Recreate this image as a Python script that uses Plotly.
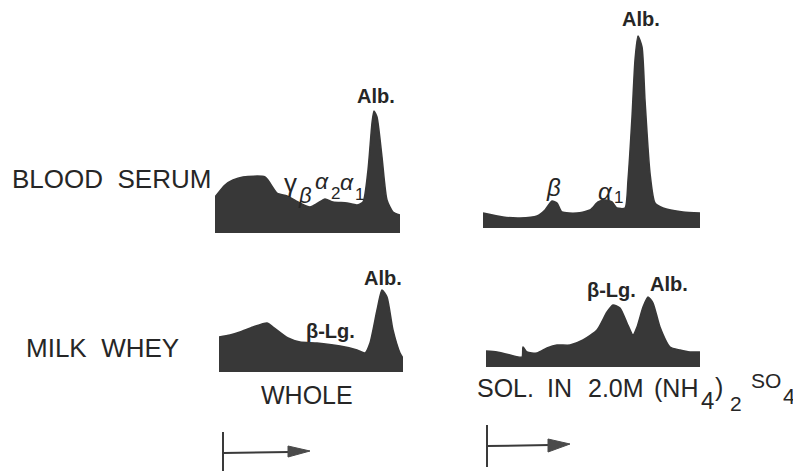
import plotly.graph_objects as go

# ---------------- data: densitometer profiles ----------------
# position along the strip (migration distance) and relative absorbance
serum_whole_pos = [0, 10, 18, 28, 50, 62, 72, 85, 95, 103, 110, 118, 132, 142, 148, 153, 157, 159, 162, 167, 172, 178, 185]
serum_whole_abs = [36, 48, 53, 56, 56, 40, 37, 30, 26, 30, 34, 31, 30, 28, 31, 63, 110, 122, 116, 76, 33, 21, 18]

serum_sol_pos = [0, 20, 37, 54, 62, 69, 74, 79, 94, 107, 115, 122, 129, 134, 142, 145, 149, 152, 155, 159, 162, 167, 172, 180, 200, 217]
serum_sol_abs = [15, 11, 10, 12, 18, 27, 25, 16, 15, 18, 26, 28, 26, 20, 20, 48, 111, 168, 192, 181, 128, 55, 25, 20, 16, 15]

whey_whole_pos = [0, 11, 21, 34, 48, 54, 69, 81, 98, 121, 138, 146, 151, 158, 163, 168, 174, 181, 184]
whey_whole_abs = [35, 37, 40, 45, 49, 45, 34, 30, 29, 26, 22, 19, 29, 62, 82, 75, 42, 19, 14]

whey_sol_pos = [0, 11, 24, 36, 37, 41, 51, 61, 71, 84, 97, 111, 121, 127, 134, 141, 147, 151, 157, 162, 167, 174, 184, 194, 204, 214]
whey_sol_abs = [16, 15, 12, 10, 20, 15, 14, 19, 22, 22, 27, 37, 55, 62, 59, 44, 32, 40, 60, 70, 64, 40, 20, 17, 15, 15]

row_labels = ["BLOOD\u00a0\u00a0SERUM", "MILK\u00a0\u00a0WHEY"]
col_labels = ["WHOLE"]

# peak labels: (text, position, absorbance, size, bold, italic)
serum_whole_labels = [("Alb.", 161, 137, 20, True, False),
                      ("\u03b3", 75, 50, 26, False, False),
                      ("\u03b2", 90, 38, 22, False, True),
                      ("\u03b1", 107, 52, 23, False, True), ("2", 120, 40, 17, False, False),
                      ("\u03b1", 132, 51, 23, False, True), ("1", 144, 39, 17, False, False)]
serum_sol_labels = [("Alb.", 158, 209, 20, True, False),
                    ("\u03b2", 70, 41, 24, False, True),
                    ("\u03b1", 122, 37, 24, False, True), ("1", 135, 31, 17, False, False)]
whey_whole_labels = [("\u03b2-Lg.", 111, 41, 20, True, False),
                     ("Alb.", 164, 94, 20, True, False)]
whey_sol_labels = [("\u03b2-Lg.", 125, 77, 20, True, False),
                   ("Alb.", 183, 83, 20, True, False)]

# page offset of the plot div (browser body margin)
OFF = 8
WIN_W, WIN_H = 801, 471
W, H = WIN_W - OFF, WIN_H - OFF
FILL = "#383838"
INK = "#262626"
FONT = "Liberation Sans"

# panel placement in window px (left, baseline, width)
panels = [
    (serum_whole_pos, serum_whole_abs, serum_whole_labels, 215, 233, 185),
    (serum_sol_pos, serum_sol_abs, serum_sol_labels, 483, 228, 217),
    (whey_whole_pos, whey_whole_abs, whey_whole_labels, 219, 372, 184),
    (whey_sol_pos, whey_sol_abs, whey_sol_labels, 486, 367, 214),
]

fig = go.Figure()
layout = dict(width=W, height=H, margin=dict(l=0, r=0, t=0, b=0, pad=0),
              paper_bgcolor="white", plot_bgcolor="rgba(0,0,0,0)",
              showlegend=False, annotations=[], shapes=[])

for i, (xs, ys, labels, left, base, width) in enumerate(panels, start=1):
    xa = "x" if i == 1 else f"x{i}"
    ya = "y" if i == 1 else f"y{i}"
    l = left - OFF
    b = base - OFF
    fig.add_trace(go.Scatter(x=xs, y=ys, xaxis=xa, yaxis=ya, mode="lines",
                             line=dict(color=FILL, width=1.5, shape="spline", smoothing=0.6),
                             fill="tozeroy", fillcolor=FILL, hoverinfo="skip"))
    layout[f"xaxis{'' if i == 1 else i}"] = dict(domain=[l / W, (l + width) / W], range=[0, width],
                                                 visible=False, fixedrange=True, anchor=ya)
    layout[f"yaxis{'' if i == 1 else i}"] = dict(domain=[(H - b) / H, 1], range=[0, b],
                                                 visible=False, fixedrange=True, anchor=xa)
    for (t, px, py, sz, bold, ital) in labels:
        layout["annotations"].append(dict(
            text=t, x=px, y=py, xref=xa, yref=ya, showarrow=False,
            xanchor="center", yanchor="middle", borderpad=0,
            font=dict(family=FONT, size=sz, color=INK,
                      weight="bold" if bold else "normal",
                      style="italic" if ital else "normal")))

# overlay axis in window-pixel units for decorations
layout["xaxis5"] = dict(domain=[0, 1], range=[OFF, WIN_W], visible=False, fixedrange=True, anchor="y5")
layout["yaxis5"] = dict(domain=[0, 1], range=[WIN_H, OFF], visible=False, fixedrange=True, anchor="x5")

def txt(t, x, y, size, anchor="center"):
    layout["annotations"].append(dict(text=t, x=x, y=y, xref="x5", yref="y5", showarrow=False,
                                      xanchor=anchor, yanchor="middle", borderpad=0,
                                      font=dict(family=FONT, size=size, color=INK)))

txt(row_labels[0], 111, 179, 26)
txt(row_labels[1], 102, 348, 26)
txt(col_labels[0], 307, 395, 25)
txt("SOL.", 505, 388, 25)
txt("IN", 559, 388, 25)
txt("2.0M", 616, 388, 25)
txt("(NH", 676, 388, 25)
txt("4", 707, 400, 24)
txt(")", 719, 387, 25)
txt("2", 736, 403, 21)
txt("SO", 766, 380, 21)
txt("4", 789, 396, 22)

def line(x0, y0, x1, y1, w=2):
    layout["shapes"].append(dict(type="line", x0=x0, y0=y0, x1=x1, y1=y1, xref="x5", yref="y5",
                                 line=dict(color="#3a3a3a", width=w)))

def head(xb, yb0, yb1, xt, yt):
    layout["shapes"].append(dict(type="path", xref="x5", yref="y5",
                                 path=f"M {xb} {yb0} L {xt} {yt} L {xb} {yb1} Z",
                                 fillcolor="#4a4a4a", line=dict(color="#4a4a4a", width=1)))

# direction-of-migration arrows
line(223, 432, 223, 471)
line(223, 453, 290, 452)
head(288, 446, 457, 310, 451)
line(487, 425, 487, 467)
line(487, 446, 550, 445)
head(548, 439, 452, 570, 444)

fig.update_layout(**layout)
fig.write_html("out.html")
